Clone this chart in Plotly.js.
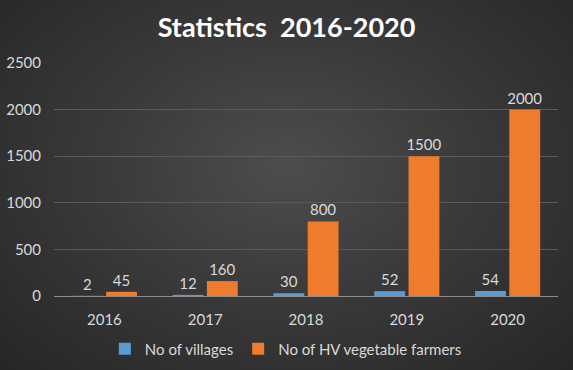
<!DOCTYPE html>
<html>
<head>
<meta charset="utf-8">
<script src="https://cdn.plot.ly/plotly-3.0.1.min.js"></script>
<style>
html,body{margin:0;padding:0;}
#chart{width:573px;height:370px;background:radial-gradient(ellipse at 50% 45%, #4d4d4d 0%, #3a3a3a 45%, #262626 100%);}
</style>
</head>
<body>
<div id="chart"></div>
<script>
const years = ['2016','2017','2018','2019','2020'];
const villages = [2, 12, 30, 52, 54];
const farmers = [45, 160, 800, 1500, 2000];
const seriesNames = ['No of villages', 'No of HV vegetable farmers'];
const yTicks = [0, 500, 1000, 1500, 2000, 2500];

const dataFont = {family: 'Lato, "Open Sans", sans-serif', size: 15, color: '#d9d9d9'};

const traces = [
  {type: 'bar', name: seriesNames[0], x: years, y: villages,
   marker: {color: '#5b9bd5'}, text: villages.map(String), textposition: 'outside',
   constraintext: 'none', textfont: dataFont, cliponaxis: false, hoverinfo: 'none'},
  {type: 'bar', name: seriesNames[1], x: years, y: farmers,
   marker: {color: '#ef7b2c'}, text: farmers.map(String), textposition: 'outside',
   constraintext: 'none', textfont: dataFont, cliponaxis: false, hoverinfo: 'none'}
];

const layout = {
  width: 573, height: 370,
  paper_bgcolor: 'rgba(0,0,0,0)', plot_bgcolor: 'rgba(0,0,0,0)',
  margin: {l: 54, r: 15, t: 63, b: 74, autoexpand: false},
  title: {text: '<b>Statistics  2016-2020</b>', x: 0.5, xanchor: 'center', y: 0.925, yanchor: 'middle',
          font: {family: 'Lato, "Open Sans", sans-serif', size: 27, color: '#ffffff'}},
  barmode: 'group', bargap: 0.32, bargroupgap: 0.1,
  xaxis: {type: 'category', showgrid: false, showline: true, linecolor: '#8c8c8c', linewidth: 1,
          ticks: '', ticklabelstandoff: 10, tickfont: dataFont, fixedrange: true, automargin: false},
  yaxis: {range: [0, 2500], tickvals: yTicks, showgrid: true, gridcolor: '#5a5a5a', gridwidth: 1,
          zeroline: false, showline: false, ticks: '', ticklabelstandoff: 12, tickfont: dataFont,
          fixedrange: true, automargin: false},
  showlegend: true,
  legend: {orientation: 'h', x: 0.46, xanchor: 'center', y: -0.228, yanchor: 'middle',
           font: dataFont, bgcolor: 'rgba(0,0,0,0)', itemwidth: 30},
};

Plotly.newPlot('chart', traces, layout, {displayModeBar: false, staticPlot: true});
</script>
</body>
</html>
